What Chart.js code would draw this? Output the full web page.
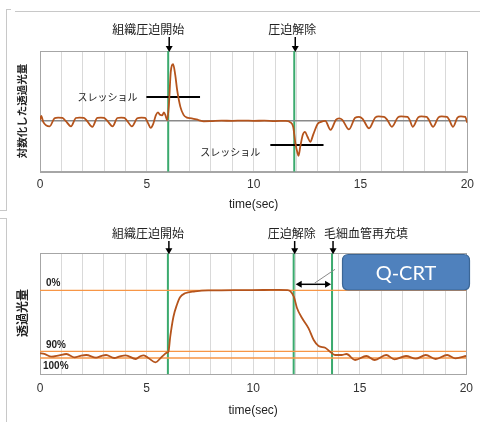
<!DOCTYPE html>
<html><head><meta charset="utf-8">
<script src="https://cdn.jsdelivr.net/npm/chart.js@4"></script>
<style>
html,body{margin:0;padding:0;background:#fff;width:480px;height:422px;overflow:hidden;position:relative;}
#c1{position:absolute;left:0;top:0;}
#c2{position:absolute;left:0;top:212px;}
.ln{position:absolute;background:#c8c8c8;}
</style></head><body>
<div class="ln" style="left:15px;top:11px;width:465px;height:1px"></div>
<div class="ln" style="left:6px;top:9px;width:1px;height:201px"></div>
<div class="ln" style="left:6px;top:9px;width:5px;height:1px"></div>
<div class="ln" style="left:0;top:210px;width:7px;height:1px"></div>
<div class="ln" style="left:0;top:218px;width:7px;height:1px"></div>
<div class="ln" style="left:6px;top:218px;width:1px;height:204px"></div>
<canvas id="c1" width="480" height="212"></canvas>
<canvas id="c2" width="480" height="210"></canvas>
<script>
// ---- data ----
const topTimes = [0,0.06,0.15,0.45,0.68,0.85,1.05,1.2,1.45,1.68,1.85,2.05,2.2,2.45,2.68,2.85,3.0,3.15,3.4,3.62,3.8,3.95,4.08,4.3,4.55,4.75,4.92,5.05,5.18,5.3,5.42,5.52,5.62,5.72,5.8,5.88,5.95,6.03,6.12,6.23,6.33,6.42,6.57,6.72,6.85,7.1,7.42,7.66,8.0,8.5,9.0,9.5,10.0,10.5,11.0,11.5,11.72,11.85,11.95,12.05,12.1,12.18,12.3,12.4,12.52,12.65,12.8,13.0,13.15,13.35,13.6,13.85,14.0,14.15,14.46,14.75,14.93,15.1,15.4,15.7,15.85,16.1,16.25,16.47,16.75,16.9,17.2,17.3,17.45,17.7,17.85,18.1,18.2,18.4,18.65,18.8,19.05,19.15,19.33,19.55,19.7,19.9,20.0];
const topValues = [0.1,0.5,-0.1,-0.55,0.25,0.33,0.3,0.0,-0.55,0.28,0.33,0.3,0.0,-0.6,0.3,0.33,0.3,0.0,-0.55,0.28,0.33,0.3,0.0,-0.55,0.25,0.33,0.3,-0.2,-0.7,-0.3,0.55,0.85,0.6,0.55,0.85,0.5,0.05,1.5,4.9,5.67,4.6,3.07,1.4,0.6,0.35,0.25,0.08,-0.05,-0.03,0.02,0.0,0.03,0.0,0.02,-0.02,0.0,-0.15,-0.6,-2.2,-3.2,-3.5,-2.6,-1.4,-1.1,-1.6,-2.1,-1.3,-0.3,-0.1,0.0,-0.9,0.1,0.25,0.1,-0.85,0.3,0.4,0.2,-0.75,0.35,0.44,0.4,0.1,-0.6,0.35,0.44,0.4,0.1,-0.6,0.35,0.44,0.4,0.1,-0.6,0.35,0.44,0.4,0.1,-0.6,0.35,0.44,0.4,-0.2];
const bottomTimes = [0,0.2,0.54,0.9,1.24,1.62,1.9,2.17,2.63,2.9,3.1,3.48,3.75,4.02,4.49,4.7,4.87,5.1,5.42,5.72,5.95,6.03,6.11,6.26,6.42,6.57,6.8,7.27,7.89,8.5,9.5,10.5,11.2,11.6,11.75,11.91,12.06,12.3,12.6,12.84,13.07,13.38,13.61,13.84,14.15,14.38,14.78,15.31,15.7,16.24,16.63,17.17,17.63,18.1,18.56,19.1,19.49,20];
const bottomValues = [2.1,2.05,1.76,1.9,2.03,1.7,1.85,1.93,1.66,1.85,1.93,1.63,1.8,1.9,1.53,1.8,1.9,1.6,1.2,1.76,2.16,2.3,3.76,5.76,6.93,7.7,8.1,8.3,8.4,8.4,8.42,8.43,8.45,8.42,8.3,7.76,6.6,5.6,4.6,3.43,2.83,2.66,2.26,1.93,1.93,2.03,1.43,1.83,1.43,1.93,1.5,1.83,1.56,1.93,1.53,1.93,1.6,1.83];
const topMarkers = [6, 11.9];
const topMarkerLabels = ['組織圧迫開始', '圧迫解除'];
const bottomMarkers = [6, 11.9, 13.7];
const bottomMarkerLabels = ['組織圧迫開始', '圧迫解除', '毛細血管再充填'];
const thresholdUpper = {from: 4.98, to: 7.49, value: 2.4};
const thresholdLower = {from: 10.78, to: 13.27, value: -2.43};
const levelValues = [8.4, 2.3, 1.63];
const levelLabels = ['0%', '90%', '100%'];
const xTickStep = 1;
const xLabelEvery = 5;

// ---- styles ----
const CURVE = '#B5541C', GREEN = '#3BAA6E', ORANGE = '#F79646', GRID = '#D9D9D9', FRAME = '#A6A6A6';
const JP = '"Noto Sans CJK JP", sans-serif';

function pts(xs, ys){ return xs.map((x,i)=>({x:x, y:ys[i]})); }
function vline(x, lo, hi){ return {data:[{x:x,y:lo},{x:x,y:hi}], borderColor:GREEN, borderWidth:2, pointRadius:0}; }
function hline(x0, x1, y, color, w){ return {data:[{x:x0,y:y},{x:x1,y:y}], borderColor:color, borderWidth:w, pointRadius:0}; }

function downArrow(ctx, x, y1, y2){
  ctx.save(); ctx.strokeStyle='#000'; ctx.fillStyle='#000'; ctx.lineWidth=1.5;
  ctx.beginPath(); ctx.moveTo(x, y1); ctx.lineTo(x, y2-5); ctx.stroke();
  ctx.beginPath(); ctx.moveTo(x-3.5, y2-6); ctx.lineTo(x+3.5, y2-6); ctx.lineTo(x, y2); ctx.closePath(); ctx.fill();
  ctx.restore();
}
function frame(chart){
  const {ctx, chartArea:a} = chart;
  ctx.save(); ctx.strokeStyle=FRAME; ctx.lineWidth=1;
  ctx.strokeRect(Math.round(a.left)+0.5, Math.round(a.top)+0.5, Math.round(a.right-a.left), Math.round(a.bottom-a.top));
  ctx.restore();
}
function yTitle(ctx, text, x, y, size){
  ctx.save(); ctx.translate(x, y); ctx.rotate(-Math.PI/2);
  ctx.font = 'bold '+size+'px '+JP; ctx.fillStyle='#222'; ctx.textAlign='center'; ctx.textBaseline='middle';
  ctx.fillText(text, 0, 0); ctx.restore();
}
function txt(ctx, text, x, y, font, align){
  ctx.save(); ctx.font=font; ctx.fillStyle='#222'; ctx.textAlign=align||'center'; ctx.textBaseline='middle';
  ctx.fillText(text, x, y); ctx.restore();
}

const xScale = (tickPad, fitH, titlePadBottom) => ({
  type:'linear', min:0, max:20,
  grid:{color:GRID, lineWidth:1, drawTicks:false},
  border:{display:true, color:FRAME},
  ticks:{stepSize:xTickStep, autoSkip:false, maxRotation:0, padding:tickPad, color:'#333',
    font:{family:'"Liberation Sans", sans-serif', size:12},
    callback:(v)=> (v % xLabelEvery === 0 ? String(v) : '')},
  title:{display:true, text:'time(sec)', color:'#222', padding:{top:0,bottom:titlePadBottom},
    font:{family:'"Liberation Sans", sans-serif', size:12}},
  afterFit:(s)=>{ s.height = fitH; }
});

const common = {
  responsive:false, animation:false, events:[],
  plugins:{legend:{display:false}, tooltip:{enabled:false}},
  elements:{line:{cubicInterpolationMode:'monotone', fill:false}}
};

// ---- chart 1 ----
const topPlugin = {
  id:'topDeco',
  beforeDatasetsDraw(chart){ frame(chart); },
  afterDraw(chart){
    const ctx = chart.ctx, xs = chart.scales.x, ys = chart.scales.y, a = chart.chartArea;
    topMarkers.forEach((m,i)=>{
      const px = xs.getPixelForValue(m);
      const off = i===0 ? -20 : -2;
      txt(ctx, topMarkerLabels[i], px+off, 29, '12px '+JP);
      downArrow(ctx, px+1, 37, a.top+1);
    });
    txt(ctx, 'スレッショル', xs.getPixelForValue(thresholdUpper.from)-9, ys.getPixelForValue(thresholdUpper.value), '10px '+JP, 'right');
    txt(ctx, 'スレッショル', xs.getPixelForValue(thresholdLower.from)-10, ys.getPixelForValue(thresholdLower.value)+7, '10px '+JP, 'right');
    yTitle(ctx, '対数化した透過光量', 22, 111, 10.5);
  }
};
const topDatasets = [
  {data:pts(topTimes, topValues), borderColor:CURVE, borderWidth:1.8, pointRadius:0},
  hline(0, 20, 0, '#8a8a8a', 1.5),
  hline(thresholdUpper.from, thresholdUpper.to, thresholdUpper.value, '#000', 2),
  hline(thresholdLower.from, thresholdLower.to, thresholdLower.value, '#000', 2)
].concat(topMarkers.map(m=>vline(m, -5.1, 7.0)));

new Chart(document.getElementById('c1'), {
  type:'line',
  data:{datasets:topDatasets},
  options:Object.assign({}, common, {
    layout:{padding:{left:40, right:5.3, top:51, bottom:0}},
    scales:{ x:xScale(6, 40.3, 0), y:{type:'linear', min:-5.1, max:7.0, display:false} }
  }),
  plugins:[topPlugin]
});

// ---- chart 2 ----
const bottomPlugin = {
  id:'bottomDeco',
  beforeDatasetsDraw(chart){ frame(chart); },
  afterDraw(chart){
    const ctx = chart.ctx, xs = chart.scales.x, ys = chart.scales.y, a = chart.chartArea;
    bottomMarkers.forEach((m,i)=>{
      const px = xs.getPixelForValue(m);
      const off = i===0 ? -20 : (i===1 ? -2 : 34);
      txt(ctx, bottomMarkerLabels[i], px+off, 21, '12px '+JP);
      downArrow(ctx, px+1, 29, a.top+1);
    });
    // level labels
    const lx = [46, 46, 43], dy = [-7, -6, 8];
    levelValues.forEach((v,i)=>{
      txt(ctx, levelLabels[i], lx[i], ys.getPixelForValue(v)+dy[i], 'bold 10px "Liberation Sans", sans-serif', 'left');
    });
    // double arrow between release and refill
    const x1 = xs.getPixelForValue(bottomMarkers[1])+2, x2 = xs.getPixelForValue(bottomMarkers[2])-1;
    const ay = ys.getPixelForValue(levelValues[0]) - 6;
    ctx.save(); ctx.strokeStyle='#000'; ctx.fillStyle='#000'; ctx.lineWidth=1.5;
    ctx.beginPath(); ctx.moveTo(x1+5, ay); ctx.lineTo(x2-5, ay); ctx.stroke();
    ctx.beginPath(); ctx.moveTo(x1, ay); ctx.lineTo(x1+6, ay-3.5); ctx.lineTo(x1+6, ay+3.5); ctx.closePath(); ctx.fill();
    ctx.beginPath(); ctx.moveTo(x2, ay); ctx.lineTo(x2-6, ay-3.5); ctx.lineTo(x2-6, ay+3.5); ctx.closePath(); ctx.fill();
    // pointer
    ctx.strokeStyle='#8a8a8a'; ctx.lineWidth=1;
    ctx.beginPath(); ctx.moveTo((x1+x2)/2+1, ay-1); ctx.lineTo(x2+4, ay-15); ctx.stroke();
    // Q-CRT box
    const bx = 342.5, by = 42.5, bw = 127, bh = 35.5, r = 6;
    ctx.beginPath();
    ctx.moveTo(bx+r, by); ctx.lineTo(bx+bw-r, by); ctx.quadraticCurveTo(bx+bw, by, bx+bw, by+r);
    ctx.lineTo(bx+bw, by+bh-r); ctx.quadraticCurveTo(bx+bw, by+bh, bx+bw-r, by+bh);
    ctx.lineTo(bx+r, by+bh); ctx.quadraticCurveTo(bx, by+bh, bx, by+bh-r);
    ctx.lineTo(bx, by+r); ctx.quadraticCurveTo(bx, by, bx+r, by); ctx.closePath();
    ctx.fillStyle='#4F81BD'; ctx.fill(); ctx.strokeStyle='#3B6696'; ctx.lineWidth=1.2; ctx.stroke();
    ctx.fillStyle='#fff'; ctx.font='20px Lato, sans-serif'; ctx.textAlign='center'; ctx.textBaseline='middle';
    ctx.fillText('Q-CRT', bx+bw/2, by+bh/2+1);
    ctx.restore();
    yTitle(ctx, '透過光量', 22, 101, 12);
  }
};
const bottomDatasets = [
  {data:pts(bottomTimes, bottomValues), borderColor:CURVE, borderWidth:1.8, pointRadius:0}
].concat(levelValues.map(v=>hline(0, 20, v, ORANGE, 1.3)))
 .concat(bottomMarkers.map(m=>vline(m, 0, 12.1)));

new Chart(document.getElementById('c2'), {
  type:'line',
  data:{datasets:bottomDatasets},
  options:Object.assign({}, common, {
    layout:{padding:{left:40, right:5.3, top:41.3, bottom:0}},
    scales:{ x:xScale(7, 47.7, 3.8), y:{type:'linear', min:0, max:12.1, display:false} }
  }),
  plugins:[bottomPlugin]
});
</script>
</body></html>
